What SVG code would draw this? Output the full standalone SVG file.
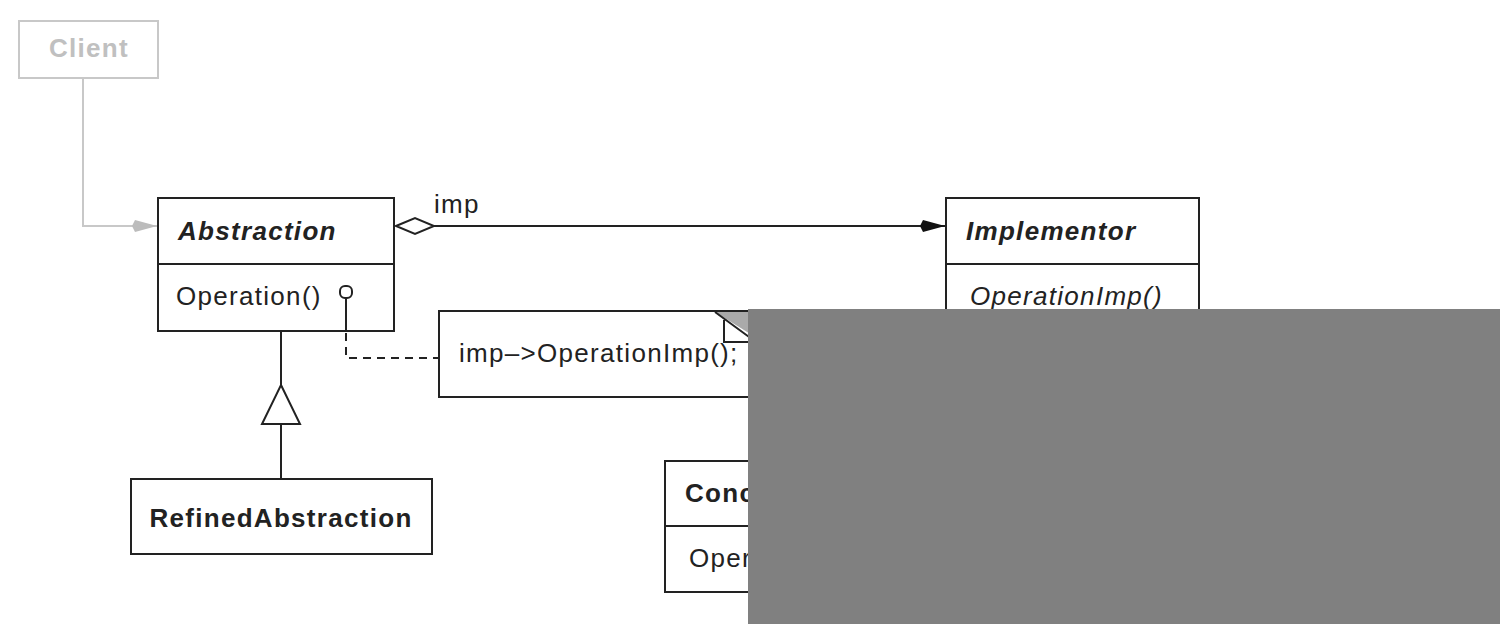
<svg xmlns="http://www.w3.org/2000/svg" width="1500" height="624" viewBox="0 0 1500 624">
<style>
.box{fill:#fff;stroke:#222;stroke-width:2}
.ln{fill:none;stroke:#222;stroke-width:2}
.t{font-family:"Liberation Sans",Arial,sans-serif;font-size:26px;letter-spacing:1.3px;fill:#222}
.b{font-weight:bold}
.i{font-style:italic}
.g{stroke:#c8c8c8}
</style>
<defs>
<marker id="filled" markerWidth="26" markerHeight="16" refX="25" refY="8" orient="auto" markerUnits="userSpaceOnUse">
<path d="M0,8 L3,2 L25,8 L3,14 Z" fill="#111"/>
</marker>
<marker id="filledGrey" markerWidth="26" markerHeight="16" refX="25" refY="8" orient="auto" markerUnits="userSpaceOnUse">
<path d="M0,8 L3,2 L25,8 L3,14 Z" fill="#bcbcbc"/>
</marker>
</defs>
<g id="client">
<rect x="19" y="21" width="139" height="57" fill="#fff" stroke="#c8c8c8" stroke-width="2"/>
<text class="t b" x="89" y="57" text-anchor="middle" style="fill:#c0c0c0">Client</text>
</g>
<g id="abstraction">
<rect class="box" x="158" y="198" width="236" height="133"/>
<path class="ln" d="M158,264 H394"/>
<text class="t b i" x="178" y="240">Abstraction</text>
<text class="t" x="176" y="305">Operation()</text>
</g>
<g id="implementor">
<rect class="box" x="946" y="198" width="253" height="140"/>
<path class="ln" d="M946,264 H1199"/>
<text class="t b i" x="966" y="240">Implementor</text>
<text class="t i" x="970" y="305">OperationImp()</text>
</g>
<g id="note">
<rect class="box" x="439" y="311" width="330" height="86"/>
<path d="M715,312 L760,312 L760,340 Z" fill="#aaa"/>
<path class="ln" d="M715,312 L760,345 M724,320 V342 H748"/>
<text class="t" x="459" y="362">imp–&gt;OperationImp();</text>
</g>
<g id="refinedAbstraction">
<rect class="box" x="131" y="479" width="301" height="75"/>
<text class="t b" x="281" y="527" text-anchor="middle">RefinedAbstraction</text>
</g>
<g id="concreteImplementorA">
<rect class="box" x="665" y="461" width="200" height="131"/>
<path class="ln" d="M665,526 H865"/>
<text class="t b" x="685" y="502">ConcreteImplementorA</text>
<text class="t" x="689" y="567">OperationImp()</text>
</g>
<g id="connectors">
<path class="ln g" d="M83,79 V226 H157" marker-end="url(#filledGrey)"/>
<path class="ln" d="M434,226 H945" marker-end="url(#filled)"/>
<path d="M396,226 L415,218 L434,226 L415,234 Z" fill="#fff" stroke="#222" stroke-width="2"/>
<text class="t" x="434" y="213">imp</text>
<path class="ln" d="M281,332 V385 M281,424 V478"/>
<path d="M281,385 L300,424 L262,424 Z" fill="#fff" stroke="#222" stroke-width="2"/>
<rect x="340" y="286" width="12" height="12" rx="5" fill="#fff" stroke="#222" stroke-width="2"/>
<path class="ln" d="M346,298 V331"/>
<path class="ln" d="M346,333 V358 H438" stroke-dasharray="8,6"/>
</g>
<rect id="overlay" x="748" y="309" width="752" height="315" fill="#808080"/>
</svg>
